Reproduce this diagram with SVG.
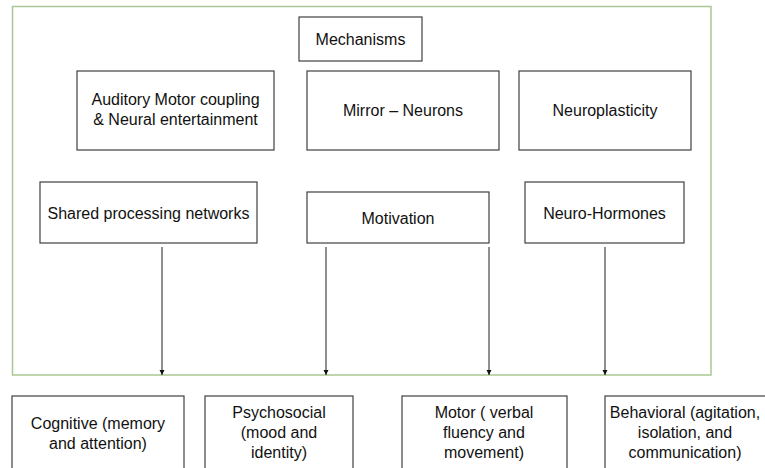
<svg xmlns="http://www.w3.org/2000/svg" width="765" height="468" viewBox="0 0 765 468">
<defs>
<style>
.box{fill:#ffffff;stroke:#404040;stroke-width:1.2}
.t{font-family:"Liberation Sans",Arial,sans-serif;font-size:16px;fill:#111111;text-anchor:middle}
.c{stroke:#333333;stroke-width:1.1;fill:none}
</style>
<marker id="ah" viewBox="0 0 10 10" refX="10" refY="5" markerWidth="5" markerHeight="6" orient="auto" markerUnits="userSpaceOnUse">
<path d="M0,0 L10,5 L0,10 Z" fill="#111111"/>
</marker>
</defs>
<rect width="765" height="468" fill="#ffffff"/>
<rect id="frame" x="12.5" y="6.5" width="698.5" height="368.5" fill="none" stroke="#a9c792" stroke-width="1.5"/>
<g id="n-mechanisms"><rect class="box" x="299" y="17" width="123" height="44"/><text class="t" x="360.5" y="45">Mechanisms</text></g>
<g id="n-auditory"><rect class="box" x="77" y="71" width="197" height="79"/><text class="t" x="175.5" y="105">Auditory Motor coupling</text><text class="t" x="175.5" y="125">&amp; Neural entertainment</text></g>
<g id="n-mirror"><rect class="box" x="307" y="71" width="192" height="79"/><text class="t" x="403" y="116">Mirror – Neurons</text></g>
<g id="n-neuroplasticity"><rect class="box" x="519" y="71" width="172" height="79"/><text class="t" x="605" y="116">Neuroplasticity</text></g>
<g id="n-shared"><rect class="box" x="40" y="182" width="217" height="61"/><text class="t" x="148.5" y="219">Shared processing networks</text></g>
<g id="n-motivation"><rect class="box" x="307" y="192" width="182" height="51"/><text class="t" x="398" y="224">Motivation</text></g>
<g id="n-hormones"><rect class="box" x="525" y="182" width="159" height="61"/><text class="t" x="604.5" y="219">Neuro-Hormones</text></g>
<g id="connectors">
<line class="c" x1="162" y1="247" x2="162" y2="375" marker-end="url(#ah)"/>
<line class="c" x1="326" y1="247" x2="326" y2="375" marker-end="url(#ah)"/>
<line class="c" x1="489" y1="247" x2="489" y2="375" marker-end="url(#ah)"/>
<line class="c" x1="605" y1="247" x2="605" y2="375" marker-end="url(#ah)"/>
</g>
<g id="n-cognitive"><rect class="box" x="12" y="396" width="172" height="80"/><text class="t" x="98" y="429">Cognitive (memory</text><text class="t" x="98" y="449">and attention)</text></g>
<g id="n-psychosocial"><rect class="box" x="205" y="396" width="148" height="80"/><text class="t" x="279" y="418">Psychosocial</text><text class="t" x="279" y="438">(mood and</text><text class="t" x="279" y="458">identity)</text></g>
<g id="n-motor"><rect class="box" x="402" y="396" width="165" height="80"/><text class="t" x="484" y="418">Motor ( verbal</text><text class="t" x="484" y="438">fluency and</text><text class="t" x="484" y="458">movement)</text></g>
<g id="n-behavioral"><rect class="box" x="605" y="396" width="170" height="80"/><text class="t" x="685" y="418">Behavioral (agitation,</text><text class="t" x="685" y="438">isolation, and</text><text class="t" x="685" y="458">communication)</text></g>
</svg>
